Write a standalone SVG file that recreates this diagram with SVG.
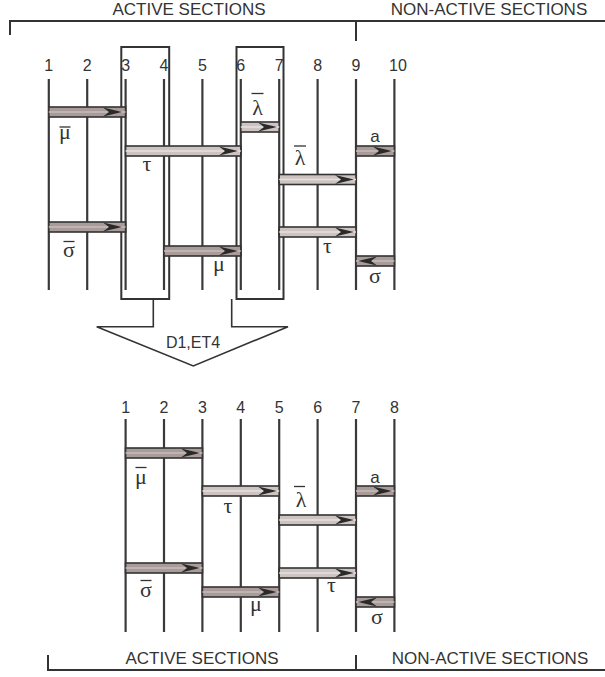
<svg xmlns="http://www.w3.org/2000/svg" xmlns:xlink="http://www.w3.org/1999/xlink" width="605" height="677" viewBox="0 0 605 677">
<style>
.hd{font-family:"Liberation Sans",Arial,sans-serif;font-size:17px;fill:#333;text-anchor:middle}
.num{font-family:"Liberation Sans",Arial,sans-serif;font-size:16px;fill:#333;text-anchor:middle}
.gk{font-family:"Liberation Serif","DejaVu Serif",serif;font-size:22px;fill:#333;text-anchor:middle}
.lat{font-family:"Liberation Sans",Arial,sans-serif;font-size:17px;fill:#333;text-anchor:middle}
.br{stroke:#333;stroke-width:2;fill:none}
.vl{stroke:#3a3a3a;stroke-width:2.2}
.box{fill:none;stroke:#333;stroke-width:2}
.bar{stroke:#333;stroke-width:1.3}
.dk rect{fill:#a89b99;stroke:#333;stroke-width:1.6}
.dk line{stroke:#c6bcba;stroke-width:1.3}
.lt rect{fill:#cdc4c2;stroke:#333;stroke-width:1.6}
.lt line{stroke:#e6e1e0;stroke-width:1.3}
.arrow{fill:none;stroke:#333;stroke-width:1.6}
</style>
<defs>
<path id="ah" d="M0,0 L-19,-4.4 L-13,0 L-19,4.4 Z" fill="#2a2a2a"/>
</defs>

<g id="header-top">
<text class="hd" x="189" y="15">ACTIVE SECTIONS</text>
<text class="hd" x="489" y="15">NON-ACTIVE SECTIONS</text>
<path class="br" d="M10,35 V21 H605 M356,21 V41"/>
</g>

<g id="top-columns">
<g class="num">
<text x="48.8" y="71">1</text><text x="87.2" y="71">2</text><text x="125.6" y="71">3</text><text x="164" y="71">4</text><text x="202.4" y="71">5</text><text x="240.8" y="71">6</text><text x="279.2" y="71">7</text><text x="317.6" y="71">8</text><text x="356" y="71">9</text><text x="398" y="71">10</text>
</g>
<g class="vl">
<line x1="48.8" y1="79" x2="48.8" y2="290"/><line x1="87.2" y1="79" x2="87.2" y2="290"/><line x1="125.6" y1="79" x2="125.6" y2="290"/><line x1="164" y1="79" x2="164" y2="290"/><line x1="202.4" y1="79" x2="202.4" y2="290"/><line x1="240.8" y1="79" x2="240.8" y2="290"/><line x1="279.2" y1="79" x2="279.2" y2="290"/><line x1="317.6" y1="79" x2="317.6" y2="290"/><line x1="356" y1="79" x2="356" y2="290"/><line x1="394.4" y1="79" x2="394.4" y2="290"/>
</g>
</g>

<g id="box-1"><rect class="box" x="121.3" y="47" width="47.9" height="252"/></g>
<g id="box-2"><rect class="box" x="236.5" y="47" width="47" height="252"/></g>

<g id="top-bands">
<g id="t-mubar" class="dk"><rect x="48.8" y="107" width="76.8" height="10"/><line x1="48.8" y1="112" x2="125.6" y2="112"/><use href="#ah" transform="translate(122,112)"/></g>
<g id="t-tau" class="lt"><rect x="125.6" y="146" width="115.2" height="10"/><line x1="125.6" y1="151" x2="240.8" y2="151"/><use href="#ah" transform="translate(238,151)"/></g>
<g id="t-lambdabar1" class="lt"><rect x="240.8" y="122" width="38.4" height="10"/><line x1="240.8" y1="127" x2="279.2" y2="127"/><use href="#ah" transform="translate(277,127)"/></g>
<g id="t-lambdabar2" class="lt"><rect x="279.2" y="174.5" width="76.8" height="10"/><line x1="279.2" y1="179.5" x2="356" y2="179.5"/><use href="#ah" transform="translate(354,179.5)"/></g>
<g id="t-a" class="dk"><rect x="356" y="146" width="38.4" height="10"/><line x1="356" y1="151" x2="394.4" y2="151"/><use href="#ah" transform="translate(392,151)"/></g>
<g id="t-sigmabar" class="dk"><rect x="48.8" y="222" width="76.8" height="10"/><line x1="48.8" y1="227" x2="125.6" y2="227"/><use href="#ah" transform="translate(122,227)"/></g>
<g id="t-mu" class="dk"><rect x="164" y="246" width="76.8" height="10"/><line x1="164" y1="251" x2="240.8" y2="251"/><use href="#ah" transform="translate(238,251)"/></g>
<g id="t-tau2" class="lt"><rect x="279.2" y="227" width="76.8" height="10"/><line x1="279.2" y1="232" x2="356" y2="232"/><use href="#ah" transform="translate(354,232)"/></g>
<g id="t-sigma" class="dk"><rect x="356" y="256" width="38.4" height="10"/><line x1="356" y1="261" x2="394.4" y2="261"/><use href="#ah" transform="translate(358,261) scale(-1,1)"/></g>
</g>

<g id="top-labels">
<text class="gk" x="65" y="139">μ</text><line class="bar" x1="59.5" y1="127" x2="70.5" y2="127"/>
<text class="gk" x="147" y="171">τ</text>
<text class="gk" x="257.5" y="115">λ</text><line class="bar" x1="251.5" y1="93.5" x2="263.5" y2="93.5"/>
<text class="gk" x="300" y="165">λ</text><line class="bar" x1="294" y1="146" x2="306" y2="146"/>
<text class="lat" x="375" y="141.5">a</text>
<text class="gk" x="69" y="257">σ</text><line class="bar" x1="63.5" y1="241.5" x2="74.5" y2="241.5"/>
<text class="gk" x="219" y="271">μ</text>
<text class="gk" x="327.5" y="253">τ</text>
<text class="gk" x="375" y="283">σ</text>
</g>

<g id="connectors">
<g id="transform-arrow">
<path class="arrow" d="M153.3,299 V326.7 H96.7 L193.3,366 L288,326.7 H231.7 V299"/>
<text class="num" x="193" y="348">D1,ET4</text>
</g>
</g>

<g id="bottom-columns">
<g class="num">
<text x="125.6" y="412.5">1</text><text x="164" y="412.5">2</text><text x="202.4" y="412.5">3</text><text x="240.8" y="412.5">4</text><text x="279.2" y="412.5">5</text><text x="317.6" y="412.5">6</text><text x="356" y="412.5">7</text><text x="394.4" y="412.5">8</text>
</g>
<g class="vl">
<line x1="125.6" y1="419" x2="125.6" y2="632"/><line x1="164" y1="419" x2="164" y2="632"/><line x1="202.4" y1="419" x2="202.4" y2="632"/><line x1="240.8" y1="419" x2="240.8" y2="632"/><line x1="279.2" y1="419" x2="279.2" y2="632"/><line x1="317.6" y1="419" x2="317.6" y2="632"/><line x1="356" y1="419" x2="356" y2="632"/><line x1="394.4" y1="419" x2="394.4" y2="632"/>
</g>
</g>

<g id="bottom-bands">
<g id="b-mubar" class="dk"><rect x="125.6" y="448" width="76.8" height="10"/><line x1="125.6" y1="453" x2="202.4" y2="453"/><use href="#ah" transform="translate(200,453)"/></g>
<g id="b-tau" class="lt"><rect x="202.4" y="486" width="76.8" height="10"/><line x1="202.4" y1="491" x2="279.2" y2="491"/><use href="#ah" transform="translate(277,491)"/></g>
<g id="b-lambdabar" class="lt"><rect x="279.2" y="515" width="76.8" height="10"/><line x1="279.2" y1="520" x2="356" y2="520"/><use href="#ah" transform="translate(354,520)"/></g>
<g id="b-a" class="dk"><rect x="356" y="486" width="38.4" height="10"/><line x1="356" y1="491" x2="394.4" y2="491"/><use href="#ah" transform="translate(392,491)"/></g>
<g id="b-sigmabar" class="dk"><rect x="125.6" y="563" width="76.8" height="10"/><line x1="125.6" y1="568" x2="202.4" y2="568"/><use href="#ah" transform="translate(200,568)"/></g>
<g id="b-mu" class="dk"><rect x="202.4" y="587" width="76.8" height="10"/><line x1="202.4" y1="592" x2="279.2" y2="592"/><use href="#ah" transform="translate(277,592)"/></g>
<g id="b-tau2" class="lt"><rect x="279.2" y="568" width="76.8" height="10"/><line x1="279.2" y1="573" x2="356" y2="573"/><use href="#ah" transform="translate(354,573)"/></g>
<g id="b-sigma" class="dk"><rect x="356" y="597" width="38.4" height="10"/><line x1="356" y1="602" x2="394.4" y2="602"/><use href="#ah" transform="translate(358,602) scale(-1,1)"/></g>
</g>

<g id="bottom-labels">
<text class="gk" x="141" y="484">μ</text><line class="bar" x1="135.5" y1="467.5" x2="146.5" y2="467.5"/>
<text class="gk" x="228" y="513">τ</text>
<text class="gk" x="301" y="506.5">λ</text><line class="bar" x1="294" y1="486.5" x2="305" y2="486.5"/>
<text class="lat" x="375" y="482.5">a</text>
<text class="gk" x="146" y="597">σ</text><line class="bar" x1="140.5" y1="580.5" x2="151.5" y2="580.5"/>
<text class="gk" x="256" y="611">μ</text>
<text class="gk" x="331.5" y="591.5">τ</text>
<text class="gk" x="377" y="624">σ</text>
</g>

<g id="footer-bottom">
<path class="br" d="M48,655 V670 H605 M356,655 V670"/>
<text class="hd" x="202" y="664">ACTIVE SECTIONS</text>
<text class="hd" x="490" y="664">NON-ACTIVE SECTIONS</text>
</g>
</svg>
